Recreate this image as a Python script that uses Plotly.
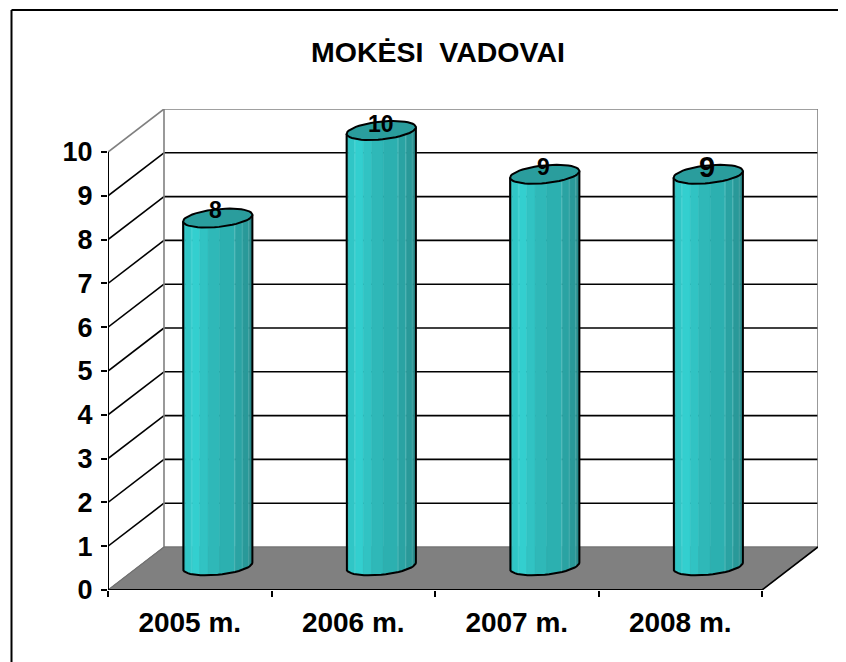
import math
import plotly.graph_objects as go

# ---- data ----
categories = ["2005 m.", "2006 m.", "2007 m.", "2008 m."]
values = [8, 10, 9, 9]
value_labels = ["8", "10", "9", "9"]
y_ticks = list(range(0, 11))
title_text = "MOKĖSI  VADOVAI"

# ---- style ----
PAGE = 8                      # default body margin of the page
W, H = 846 - PAGE, 662 - PAGE  # size of the figure itself
LEFT, FRONT_RIGHT, BACK_RIGHT = 108 - PAGE, 762 - PAGE, 818 - PAGE
FLOOR_Y, FRONT_TOP, BACK_TOP = 590 - PAGE, 152 - PAGE, 109 - PAGE
PX_X = (FRONT_RIGHT - LEFT) / len(categories)
PX_Y = (FLOOR_Y - FRONT_TOP) / 10
DEPTH_X = (BACK_RIGHT - FRONT_RIGHT) / PX_X   # offset of the back wall, in axis units
DEPTH_Y = (FRONT_TOP - BACK_TOP) / PX_Y
ML, MR, MT, MB = LEFT, W - BACK_RIGHT, BACK_TOP, H - FLOOR_Y
FONT = "Liberation Sans"
label_sizes = [23, 23, 23, 29]
label_dx = [-2, 0, -1, -1]
label_dy = [8, 7, 7, 7]

stripes = [
    (0.00, 0.03, "#2a9f9f"), (0.03, 0.115, "#30c6c6"), (0.115, 0.135, "#44d2d2"),
    (0.135, 0.24, "#33cfcf"), (0.24, 0.36, "#31c3c3"), (0.36, 0.53, "#2fb8b8"),
    (0.53, 0.74, "#2cb0b0"), (0.74, 0.755, "#50bcbc"), (0.755, 0.85, "#2aa3a3"),
    (0.85, 0.865, "#4db3b3"), (0.865, 0.945, "#299999"), (0.945, 0.96, "#48a6a6"),
    (0.96, 1.00, "#278c8c"),
]
CAP = "#2a9d9d"
RX = 32.5 / PX_X
RDX = 12 / PX_X
RDY = 9.5 / PX_Y
BASE = 0.06
T0 = math.atan2(RDX, RX)


def project(x, v, d):
    return x + d * DEPTH_X, v + d * DEPTH_Y


def ell(cx, cy, t):
    return cx + RX * math.cos(t) + RDX * math.sin(t), cy + RDY * math.sin(t)


def arc(cx, cy, f0, f1, n=6):
    # front arc of the ellipse between fractions of its width
    a0, a1 = math.acos(1 - 2 * f0), math.acos(1 - 2 * f1)
    pts = [ell(cx, cy, T0 + math.pi + a0 + (a1 - a0) * i / n) for i in range(n + 1)]
    return [p[0] for p in pts], [p[1] for p in pts]


fig = go.Figure()


def poly(xs, ys, fill=None, line=None, lw=1.5):
    fig.add_trace(go.Scatter(
        x=xs, y=ys, mode="lines", cliponaxis=False, hoverinfo="skip", showlegend=False,
        fill="toself" if fill else "none", fillcolor=fill,
        line=dict(color=line or fill, width=lw if line else 0.6),
    ))


def seg(a, b, color, lw=1.6):
    poly([a[0], b[0]], [a[1], b[1]], line=color, lw=lw)


xmax = len(categories)
# floor
bx, by = zip(project(0, 0, 0), project(xmax, 0, 0), project(xmax, 0, 1), project(0, 0, 1))
poly(list(bx) + [bx[0]], list(by) + [by[0]], fill="#808080", line="#808080", lw=1)
# walls: gridlines
for v in y_ticks[1:]:
    color = "#808080" if v == 10 else "#000000"
    seg(project(0, v, 0), project(0, v, 1), color)
    seg(project(0, v, 1), project(xmax, v, 1), color)
# wall edges
seg(project(0, 0, 1), project(0, 10, 1), "#808080")
seg(project(xmax, 0, 1), project(xmax, 10, 1), "#808080")
seg(project(0, 0, 1), project(xmax, 0, 1), "#707070", 1.2)
seg(project(0, 0, 0), project(0, 0, 1), "#707070", 1.2)
seg(project(xmax, 0, 0), project(xmax, 0, 1), "#000000")

# cylinders
for i, val in enumerate(values):
    cx, cb = project(i + 0.5, BASE, 0.5)
    ct = project(i + 0.5, val, 0.5)[1]
    for f0, f1, col in stripes:
        ax, ay = arc(cx, cb, f0, f1)
        tx, ty = arc(cx, ct, f0, f1)
        poly(ax + tx[::-1] + [ax[0]], ay + ty[::-1] + [ay[0]], fill=col)
    # outline
    ax, ay = arc(cx, cb, 0, 1, n=24)
    tx, ty = arc(cx, ct, 0, 1, n=2)
    poly([tx[0]] + ax + [tx[-1]], [ty[0]] + ay + [ty[-1]], line="#000000", lw=2)
    # cap
    pts = [ell(cx, ct, 2 * math.pi * k / 48) for k in range(49)]
    poly([p[0] for p in pts], [p[1] for p in pts], fill=CAP, line="#000000", lw=2)

# front axis lines
seg(project(0, 0, 0), project(xmax, 0, 0), "#000000", 2.2)
seg(project(0, 0, 0), project(0, 10, 0), "#000000", 2)

# value labels
for i, val in enumerate(values):
    x, y = project(i + 0.5, val, 0.5)
    fig.add_annotation(
        x=x + label_dx[i] / PX_X, y=y + label_dy[i] / PX_Y, text="<b>" + value_labels[i] + "</b>",
        showarrow=False, font=dict(family=FONT, size=label_sizes[i], color="#000000"),
        xanchor="center", yanchor="middle",
    )


def px_to_paper(px, py):
    return (px - ML) / (W - ML - MR), (H - MB - py) / (H - MT - MB)


fx, fy = px_to_paper(11.5 - PAGE, 10 - PAGE)
fx1, _ = px_to_paper(W, 0)
_, fy1 = px_to_paper(0, H)
for s in [(fx, fy, fx1, fy), (fx, fy, fx, fy1)]:
    fig.add_shape(type="line", xref="paper", yref="paper", x0=s[0], y0=s[1], x1=s[2], y1=s[3],
                  line=dict(color="#000000", width=2))

fig.update_layout(
    width=W, height=H, autosize=False,
    margin=dict(l=ML, r=MR, t=MT, b=MB, autoexpand=False),
    paper_bgcolor="#ffffff", plot_bgcolor="rgba(0,0,0,0)",
    showlegend=False,
    title=dict(text="<b>" + title_text + "</b>", x=(438 - PAGE) / W, xanchor="center",
               y=1 - (52 - PAGE) / H, yanchor="middle",
               font=dict(family=FONT, size=28.5, color="#000000")),
    xaxis=dict(
        range=[0, xmax + DEPTH_X], tickmode="array",
        tickvals=[i + 0.5 for i in range(xmax)],
        ticktext=["<b>" + c + "</b>" for c in categories],
        ticks="", showgrid=False, zeroline=False, showline=False,
        tickfont=dict(family=FONT, size=28, color="#000000"), tickangle=0,
        ticklabelstandoff=13,
        minor=dict(tickmode="array", tickvals=list(range(xmax + 1)), ticks="outside",
                   ticklen=6, tickwidth=1.5, tickcolor="#000000", showgrid=False),
    ),
    yaxis=dict(
        range=[0, 10 + DEPTH_Y], tickmode="array", tickvals=y_ticks,
        ticktext=["<b>%d</b>" % v for v in y_ticks],
        ticks="outside", ticklen=6, tickwidth=1.5, tickcolor="#000000",
        showgrid=False, zeroline=False, showline=False,
        tickfont=dict(family=FONT, size=27, color="#000000"),
        ticklabelstandoff=3,
    ),
)

fig.write_html("out.html")
